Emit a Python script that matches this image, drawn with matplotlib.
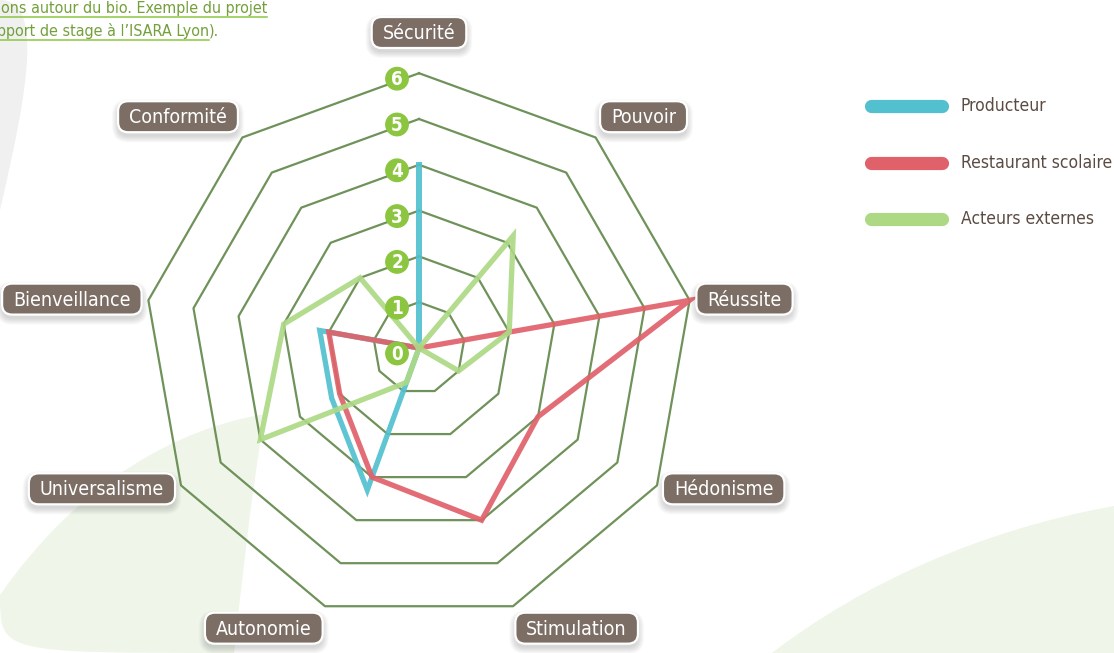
import numpy as np
import matplotlib
matplotlib.use("Agg")
import matplotlib.pyplot as plt
from matplotlib import font_manager
from matplotlib.patches import FancyBboxPatch, Circle, PathPatch
from matplotlib.path import Path
from matplotlib.lines import Line2D
from matplotlib.transforms import IdentityTransform

# data
categories = ['Sécurité', 'Pouvoir', 'Réussite', 'Hédonisme', 'Stimulation',
              'Autonomie', 'Universalisme', 'Bienveillance', 'Conformité']
producteur = [4, 0, 0, 0, 0, 3.3, 2.2, 2.2, 0]
restaurant = [0, 0, 6, 3, 4, 3, 2, 2, 0]
acteurs = [0, 3.2, 2, 1, 0, 0.8, 4, 3, 2]
series_names = ['Producteur', 'Restaurant scolaire', 'Acteurs externes']
series_colors = ['#52c0cf', '#e0616a', '#add985']
ticks = [0, 1, 2, 3, 4, 5, 6]
caption_1 = 'ions autour du bio. Exemple du projet'
caption_2 = 'pport de stage à l’ISARA Lyon'

names = {f.name for f in font_manager.fontManager.ttflist}
FONT = 'Liberation Sans Narrow' if 'Liberation Sans Narrow' in names else 'DejaVu Sans'
plt.rcParams['font.family'] = [FONT, 'DejaVu Sans']
plt.rcParams['font.stretch'] = 'condensed'

W, H = 1114, 653
cx, cy = 419, 348
U = 45.8  # pixels per unit

fig = plt.figure(figsize=(W / 100, H / 100), dpi=100)
fig.patch.set_facecolor('white')
ax = fig.add_axes([0, 0, 1, 1])
ax.set_xlim(-cx / U, (W - cx) / U)
ax.set_ylim(-(H - cy) / U, cy / U)
ax.axis('off')


def fpx(x, y):
    # pixel from top-left -> figure fraction
    return x / W, 1 - y / H


def shape(points, color):
    verts = [fpx(*p) for p in points]
    codes = [Path.MOVETO] + [Path.CURVE4] * (len(verts) - 2) + [Path.CLOSEPOLY]
    p = PathPatch(Path(verts, codes), fc=color, ec='none', transform=fig.transFigure, zorder=-2)
    fig.add_artist(p)


# background leaves
shape([(0, 0), (44, 0), (28, 90), (0, 210), (0, 210), (0, 0), (0, 0)], '#f0f0f0')
shape([(0, 595), (80, 480), (180, 428), (265, 414), (250, 500), (240, 600), (234, 653),
       (0, 653), (0, 653), (0, 595), (0, 595)], '#eff6e9')
shape([(772, 653), (860, 585), (980, 530), (1114, 506), (1114, 560), (1114, 600), (1114, 653),
       (900, 653), (800, 653), (772, 653), (772, 653)], '#eff6e9')

n = len(categories)
angles = np.deg2rad(np.arange(n) * 360 / n)


def xy(vals):
    v = np.append(vals, vals[0])
    a = np.append(angles, angles[0])
    return v * np.sin(a), v * np.cos(a)


for k in ticks[1:]:
    x, y = xy([k] * n)
    ax.plot(x, y, color='#6f925a', lw=1.6, zorder=1)

for vals, col in zip([producteur, restaurant, acteurs], series_colors):
    x, y = xy(vals)
    ax.plot(x, y, color=col, lw=3.8, alpha=0.92, zorder=3, solid_joinstyle='miter')

for k in ticks:
    ax.add_patch(Circle((-0.48, k - 0.12), 0.245, color='#8cc640', zorder=5))
    ax.text(-0.48, k - 0.14, str(k), color='white', fontweight='bold', fontsize=13.5,
            ha='center', va='center', zorder=6, family='DejaVu Sans')

fig.canvas.draw()
renderer = fig.canvas.get_renderer()

# category labels in rounded boxes
for cat, a in zip(categories, angles):
    s, c = np.sin(a), np.cos(a)
    R = 6.55 if abs(s) < 0.1 else 6.15
    px, py = ax.transData.transform((R * s, R * c))
    t = fig.text(0, 0, cat, color='white', fontsize=14, ha='center', va='center', zorder=12)
    tw = t.get_window_extent(renderer).width
    bw, bh = tw + 22, 31
    if s > 0.1:
        x0 = px
    elif s < -0.1:
        x0 = px - bw
    else:
        x0 = px - bw / 2
    if abs(c) < 0.6:
        y0 = py - bh / 2
    elif c > 0:
        y0 = py
    else:
        y0 = py - bh
    for i in range(7):
        sh = FancyBboxPatch((x0 - i, y0 - 4 - i), bw + 2 * i, bh + 2 * i,
                            boxstyle='round,pad=0,rounding_size=%d' % (10 + i),
                            fc='#555555', ec='none', alpha=0.035,
                            transform=IdentityTransform(), zorder=10)
        fig.add_artist(sh)
    box = FancyBboxPatch((x0, y0), bw, bh, boxstyle='round,pad=0,rounding_size=10',
                         fc='#7c6e65', ec='white', lw=1.6,
                         transform=IdentityTransform(), zorder=11)
    fig.add_artist(box)
    t.set_position(((x0 + bw / 2) / W, (y0 + bh / 2 - 1) / H))

# legend
for i, (name, col) in enumerate(zip(series_names, series_colors)):
    ly = 106 + i * 56.5
    x1, y1 = fpx(871, ly)
    x2, _ = fpx(942, ly)
    fig.add_artist(Line2D([x1, x2], [y1, y1], color=col, lw=9.5, solid_capstyle='round',
                          transform=fig.transFigure))
    fig.text(*fpx(961, ly), name, color='#5b4c43', fontsize=12.5, ha='left', va='center')

# caption at the top left (cut off)
t1 = fig.text(*fpx(-3, 13), caption_1, color='#73a03a', fontsize=11.5, ha='left', va='baseline')
t2 = fig.text(*fpx(-3, 36), caption_2, color='#73a03a', fontsize=11.5, ha='left', va='baseline')
b1 = t1.get_window_extent(renderer)
b2 = t2.get_window_extent(renderer)
t3 = fig.text(b2.x1 / W, 1 - 36 / H, ').', color='#73a03a', fontsize=11.5, ha='left', va='baseline')
for b, yy in [(b1, 16.5), (b2, 39.5)]:
    fig.add_artist(Line2D([0, b.x1 / W], [1 - yy / H] * 2, color='#8cc63f', lw=1.1,
                          transform=fig.transFigure))

fig.savefig('out.png', dpi=100, facecolor='white')
